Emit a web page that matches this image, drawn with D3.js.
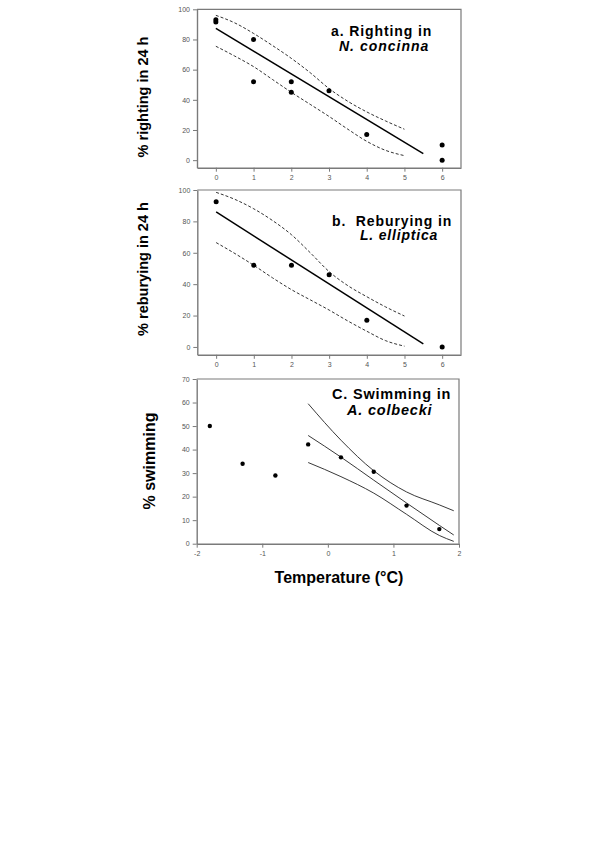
<!DOCTYPE html>
<html>
  <head>
    <meta charset="utf-8">
    <title>Temperature panels</title>
    <script src="https://d3js.org/d3.v7.min.js"></script>
    <style>
      html, body {
        margin:0;
        padding:0;
        background:#fff;
      }
      svg text { font-family: "Liberation Sans", Arial, sans-serif; }
    </style>
  </head>
  <body>
    <div id="chart"></div>
    <script>
      // panel a - righting in N. concinna
      var ptsA = [[0,93],[0,91.5],[1,80],[1,52],[2,52],[2,45],[3,46],[4,17],[6,10],[6,0]];
      var fitA = [[0,87.3],[5.5,4.4]];
      var upperA = [[0,96],[0.5,91],[1,84],[1.5,76],[2,67.5],[2.5,58],[3,47.5],[3.5,39],[4,32],[4.5,26],[5,20.5]];
      var lowerA = [[0,75.5],[0.5,69],[1,62],[1.5,53.5],[2,45],[2.5,37],[3,29],[3.5,20.5],[4,12.5],[4.5,6.5],[5,3]];

      // panel b - reburying in L. elliptica
      var ptsB = [[0,92.5],[1,52],[2,52],[3,46],[4,17],[6,0]];
      var fitB = [[0,86],[5.5,1.9]];
      var upperB = [[0,98.5],[0.5,94],[1,88],[1.5,80.5],[2,71.5],[2.5,60],[3,48],[3.5,39],[4,32],[4.5,25.5],[5,19.7]];
      var lowerB = [[0,66.5],[0.5,59.5],[1,52],[1.5,44],[2,36.5],[2.5,30],[3,23.5],[3.5,16.5],[4,10],[4.5,4],[5,0.5]];

      // panel c - swimming in A. colbecki
      var ptsC = [[-1.8,50],[-1.3,34],[-0.8,29],[-0.3,42.2],[0.2,36.7],[0.7,30.6],[1.2,16.2],[1.7,6.2]];
      var midC = [[-0.3,46],[0.2,36.8],[0.7,27],[1.2,17.3],[1.7,7.8],[1.92,3.7]];
      var upperC = [[-0.3,59.5],[0.2,44],[0.7,31],[1.2,22],[1.7,16.5],[1.92,14]];
      var lowerC = [[-0.3,34.5],[0.2,28.5],[0.7,21.5],[1.2,12.5],[1.7,3.5],[1.92,1]];

      var ticksX_ab = [0,1,2,3,4,5,6];
      var ticksY_ab = [0,20,40,60,80,100];
      var ticksX_c = [-2,-1,0,1,2];
      var ticksY_c = [0,10,20,30,40,50,60,70];

      var svg = d3.select("#chart").append("svg")
        .attr("width", 600).attr("height", 850);

      function panel(p) {
        var x = d3.scaleLinear().domain(p.xd).range([p.left, p.right]);
        var y = d3.scaleLinear().domain(p.yd).range([p.bottom, p.top]);
        var g = svg.append("g");

        // frame
        g.append("path")
          .attr("d", "M" + p.left + "," + p.top + "H" + p.right + "V" + p.bottom)
          .attr("fill", "none").attr("stroke", "#7a7a7a").attr("stroke-width", 1.2);

        var fmt = d => String(d);
        var ax = g.append("g").attr("transform", "translate(0," + p.bottom + ")")
          .call(d3.axisBottom(x).tickValues(p.tx).tickSize(4).tickSizeOuter(0).tickPadding(3)
            .tickFormat(fmt));
        var ay = g.append("g").attr("transform", "translate(" + p.left + ",0)")
          .call(d3.axisLeft(y).tickValues(p.ty).tickSize(4).tickSizeOuter(0).tickPadding(3)
            .tickFormat(fmt));
        [ax, ay].forEach(function(a) {
          a.select(".domain").attr("stroke", "#7a7a7a").attr("stroke-width", 1.4);
          a.selectAll(".tick line").attr("stroke", "#7a7a7a");
          a.selectAll(".tick text").attr("fill", "#555").style("font-size", "7px")
            .style("font-family", "'Liberation Sans', Arial, sans-serif");
        });

        var curve = d3.line().x(d => x(d[0])).y(d => y(d[1])).curve(d3.curveMonotoneX);

        (p.bands || []).forEach(function(b) {
          g.append("path").attr("d", curve(b))
            .attr("fill", "none").attr("stroke", p.bandColor).attr("stroke-width", p.bandWidth)
            .attr("stroke-dasharray", p.bandDash);
        });
        if (p.fit) {
          g.append("path").attr("d", curve(p.fit))
            .attr("fill", "none").attr("stroke", "#000").attr("stroke-width", p.fitWidth);
        }

        g.selectAll("circle.pt").data(p.pts).join("circle")
          .attr("class", "pt")
          .attr("cx", d => x(d[0])).attr("cy", d => y(d[1]))
          .attr("r", p.r).attr("fill", "#000");

        // panel title
        p.title.forEach(function(t) {
          g.append("text").attr("x", t.x).attr("y", t.y)
            .style("font-size", t.size + "px").style("font-weight", "bold")
            .style("font-style", t.italic ? "italic" : "normal")
            .style("letter-spacing", t.ls + "px")
            .style("white-space", "pre")
            .text(t.text);
        });

        // y title
        g.append("text")
          .attr("transform", "translate(" + p.ytx + "," + p.yty + ") rotate(-90)")
          .attr("text-anchor", "middle")
          .style("font-size", p.ytSize + "px").style("font-weight", "bold")
          .text(p.ytitle);
      }

      panel({
        xd: [-0.5, 6.5], yd: [-5, 100], left: 197, right: 461, top: 9.3, bottom: 167.7,
        tx: ticksX_ab, ty: ticksY_ab, pts: ptsA, fit: fitA, bands: [upperA, lowerA],
        bandColor: "#333", bandWidth: 1, bandDash: "3,2", fitWidth: 1.5, r: 2.5,
        title: [
          {text: "a. Righting in", x: 331, y: 35.7, size: 14, ls: 0.9},
          {text: "N. concinna", x: 339, y: 50.7, size: 14, ls: 1, italic: true}
        ],
        ytitle: "% righting in 24 h", ytx: 147.5, yty: 97, ytSize: 14.5
      });

      panel({
        xd: [-0.5, 6.5], yd: [-5, 100], left: 197.3, right: 461, top: 190, bottom: 354.8,
        tx: ticksX_ab, ty: ticksY_ab, pts: ptsB, fit: fitB, bands: [upperB, lowerB],
        bandColor: "#333", bandWidth: 1, bandDash: "3,2", fitWidth: 1.5, r: 2.5,
        title: [
          {text: "b.  Reburying in", x: 332, y: 225.7, size: 14, ls: 0.9},
          {text: "L. elliptica", x: 360, y: 240.2, size: 14, ls: 0.8, italic: true}
        ],
        ytitle: "% reburying in 24 h", ytx: 147.5, yty: 269, ytSize: 14.5
      });

      panel({
        xd: [-2, 2], yd: [0, 70], left: 196.7, right: 459, top: 379, bottom: 543.7,
        tx: ticksX_c, ty: ticksY_c, pts: ptsC, fit: null, bands: [upperC, midC, lowerC],
        bandColor: "#222", bandWidth: 0.9, bandDash: null, fitWidth: 1, r: 2.2,
        title: [
          {text: "C. Swimming in", x: 332, y: 399.3, size: 14.5, ls: 0.8},
          {text: "A. colbecki", x: 347, y: 415, size: 14.5, ls: 0.8, italic: true}
        ],
        ytitle: "% swimming", ytx: 154.5, yty: 461, ytSize: 16
      });

      svg.append("text").attr("x", 339).attr("y", 582.7).attr("text-anchor", "middle")
        .style("font-size", "16px").style("font-weight", "bold")
        .text("Temperature (\u00B0C)");
    </script>
  </body>
</html>
